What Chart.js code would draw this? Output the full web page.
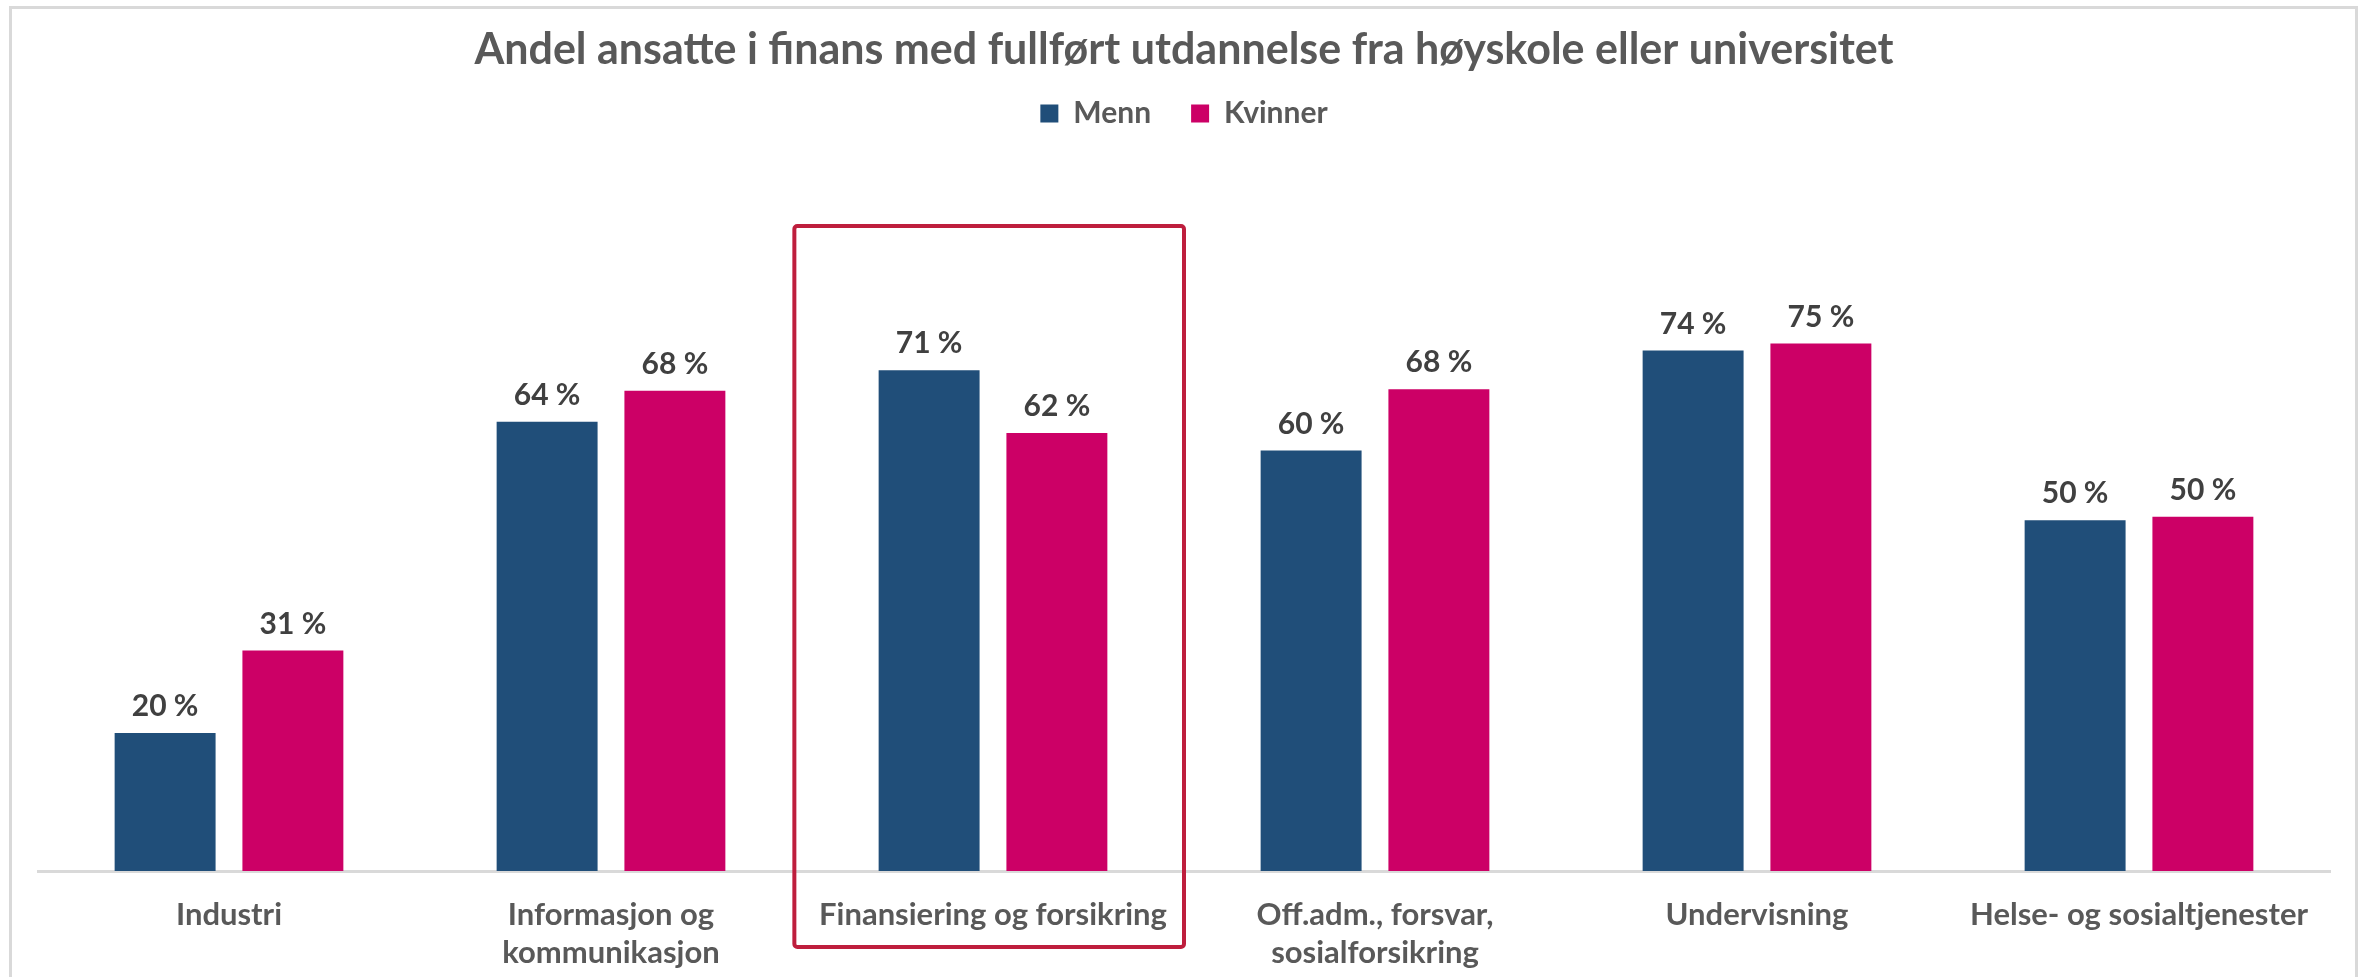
<!DOCTYPE html>
<html>
<head>
<meta charset="utf-8">
<script src="https://cdn.jsdelivr.net/npm/chart.js@4.4.1/dist/chart.umd.min.js"></script>
<style>
  html, body { margin: 0; padding: 0; background: #fff; }
  #wrap { position: relative; width: 2364px; height: 977px; overflow: hidden; }
  #frame { position: absolute; left: 9px; top: 6px; width: 2349px; height: 1000px;
           border: 3px solid #D9D9D9; box-sizing: border-box; pointer-events: none; }
</style>
</head>
<body>
<div id="wrap">
  <canvas id="chart" width="2364" height="977"></canvas>
  <div id="frame"></div>
</div>
<script>
const categories = [
    'Industri',
    ['Informasjon og', 'kommunikasjon'],
    'Finansiering og forsikring',
    ['Off.adm., forsvar,', 'sosialforsikring'],
    'Undervisning',
    'Helse- og sosialtjenester'
];
const menn = [19.6, 63.8, 71.1, 59.7, 73.9, 49.8];
const kvinner = [31.3, 68.2, 62.2, 68.4, 74.9, 50.3];

// value axis range (hidden)
const yMin = 0;
const yMax = 104;

// highlighted category and the value range the red frame covers
const highlightIndex = 2;
const highlightTop = 91.6;
const highlightBottom = -10.8;

const FONT = 'Lato';

const valueLabels = {
    id: 'valueLabels',
    afterDatasetsDraw(chart) {
        const ctx = chart.ctx;
        ctx.save();
        ctx.font = 'bold 30px ' + FONT;
        ctx.fillStyle = '#404040';
        ctx.textAlign = 'center';
        ctx.textBaseline = 'alphabetic';
        chart.data.datasets.forEach((ds, i) => {
            chart.getDatasetMeta(i).data.forEach((bar, j) => {
                ctx.fillText(Math.round(ds.data[j]) + ' %', bar.x, bar.y - 17);
            });
        });
        ctx.restore();
    }
};

const highlightBox = {
    id: 'highlightBox',
    afterDraw(chart) {
        const ctx = chart.ctx;
        const x = chart.scales.x, y = chart.scales.y;
        const cw = (x.right - x.left) / categories.length;
        const cx = x.getPixelForValue(highlightIndex);
        const left = cx - 0.52 * cw, right = cx + 0.5 * cw;
        const top = y.getPixelForValue(highlightTop);
        const bottom = y.getPixelForValue(highlightBottom);
        ctx.save();
        ctx.strokeStyle = '#BE1E3D';
        ctx.lineWidth = 4;
        ctx.beginPath();
        ctx.roundRect(left, top, right - left, bottom - top, 3);
        ctx.stroke();
        ctx.restore();
    }
};

new Chart(document.getElementById('chart').getContext('2d'), {
    type: 'bar',
    data: {
        labels: categories,
        datasets: [
            { label: 'Menn', data: menn, backgroundColor: '#204E79', borderWidth: 0 },
            { label: 'Kvinner', data: kvinner, backgroundColor: '#CC0066', borderWidth: 0 }
        ]
    },
    options: {
        responsive: false,
        animation: false,
        layout: { padding: { left: 38, right: 34, top: 0, bottom: 0 } },
        datasets: { bar: { categoryPercentage: 0.669, barPercentage: 0.79 } },
        plugins: {
            title: {
                display: true,
                text: 'Andel ansatte i finans med fullført utdannelse fra høyskole eller universitet',
                color: '#595959',
                font: { family: FONT, size: 43, weight: 'bold' },
                padding: { top: 24, bottom: -17 }
            },
            legend: {
                display: true,
                labels: {
                    color: '#595959',
                    font: { family: FONT, size: 30, weight: 'bold' },
                    boxWidth: 18,
                    boxHeight: 18,
                    padding: 40
                }
            },
            tooltip: { enabled: false }
        },
        scales: {
            x: {
                grid: { display: false, drawTicks: false },
                border: { display: true, color: '#D9D9D9', width: 3 },
                ticks: {
                    color: '#595959',
                    font: { family: FONT, size: 31, weight: 'bold', lineHeight: 1.226 },
                    padding: 25,
                    maxRotation: 0,
                    autoSkip: false
                },
                afterFit(scale) { scale.height = 106; }
            },
            y: {
                display: false,
                min: yMin,
                max: yMax
            }
        }
    },
    plugins: [valueLabels, highlightBox]
});
</script>
</body>
</html>
